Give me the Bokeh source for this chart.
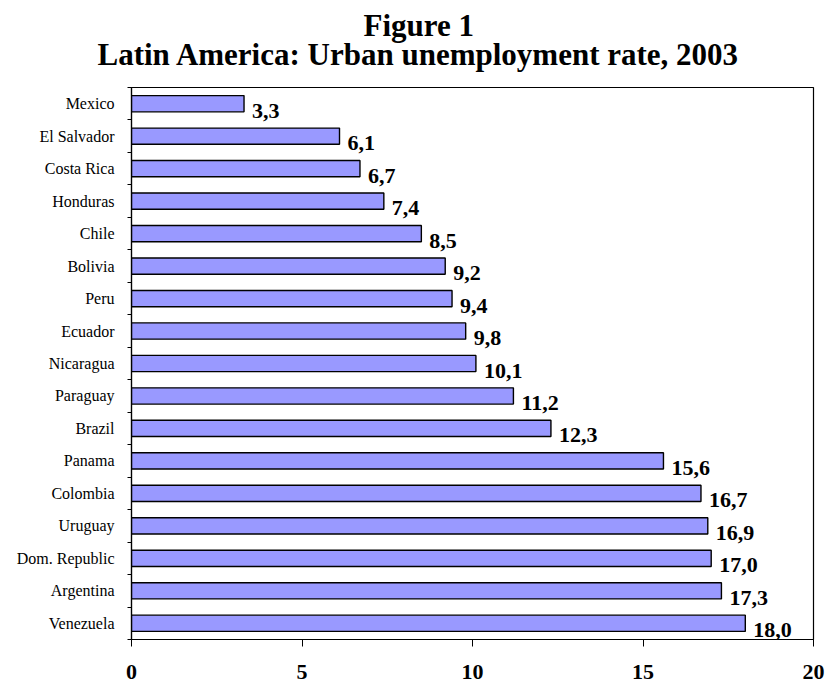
from bokeh.plotting import figure
from bokeh.models import ColumnDataSource, Range1d, FixedTicker, Title
from bokeh.core.properties import value
from bokeh.embed import file_html
from bokeh.resources import INLINE

countries = ["Mexico", "El Salvador", "Costa Rica", "Honduras", "Chile", "Bolivia",
             "Peru", "Ecuador", "Nicaragua", "Paraguay", "Brazil", "Panama",
             "Colombia", "Uruguay", "Dom. Republic", "Argentina", "Venezuela"]
rates = [3.3, 6.1, 6.7, 7.4, 8.5, 9.2, 9.4, 9.8, 10.1, 11.2, 12.3, 15.6,
         16.7, 16.9, 17.0, 17.3, 18.0]
x_ticks = [0, 5, 10, 15, 20]
title_line1 = "Figure 1"
title_line2 = "Latin America: Urban unemployment rate, 2003"

FONT = "Liberation Serif"
W, H = 827, 687
LEFT, RIGHT, TOP, BOTTOM = 131, 14, 87, 48

n = len(countries)
pos = list(range(n))
labels = [f"{v:.1f}".replace(".", ",") for v in rates]
source = ColumnDataSource(dict(country=countries, rate=rates, pos=pos, label=labels))

p = figure(width=W, height=H, output_backend="svg", toolbar_location=None,
           x_range=Range1d(0, 20), y_range=Range1d(n - 0.5, -0.5),
           min_border_left=LEFT, min_border_right=RIGHT, min_border_top=TOP,
           min_border_bottom=BOTTOM)

p.xgrid.visible = False
p.ygrid.visible = False
p.outline_line_color = "black"
p.outline_line_width = 1.2
p.background_fill_color = "white"
p.border_fill_color = "white"

# x axis
xa = p.xaxis[0]
xa.ticker = FixedTicker(ticks=x_ticks)
xa.major_tick_out = 7
xa.major_tick_in = 0
xa.minor_tick_line_color = None
xa.axis_line_color = "black"
xa.axis_line_width = 1.2
xa.major_tick_line_color = "black"
xa.major_label_text_font = FONT
xa.major_label_text_font_style = "bold"
xa.major_label_text_font_size = "22px"
xa.major_label_text_color = "black"
xa.major_label_standoff = 18

# y axis: labels at category centres, ticks at category boundaries
ya = p.yaxis[0]
ya.ticker = FixedTicker(ticks=pos, minor_ticks=[i - 0.5 for i in range(n + 1)])
ya.major_label_overrides = {i: c for i, c in enumerate(countries)}
ya.major_tick_line_color = None
ya.major_tick_out = 0
ya.major_tick_in = 0
ya.minor_tick_out = 4
ya.minor_tick_in = 0
ya.minor_tick_line_color = "black"
ya.axis_line_color = "black"
ya.axis_line_width = 1.2
ya.major_label_text_font = FONT
ya.major_label_text_font_size = "16px"
ya.major_label_text_color = "black"
ya.major_label_standoff = 13

p.hbar(y="pos", left=0, right="rate", height=0.5, source=source,
       fill_color="#9999FF", line_color="black", line_width=1.4)

p.text(x="rate", y="pos", text="label", source=source, x_offset=8, y_offset=7,
       text_baseline="middle", text_align="left", text_font=value(FONT),
       text_font_size="22px", text_font_style="bold", text_color="black")

# two-line title, centred on the page rather than on the plot frame
t2 = Title(text=title_line2, align="left", offset=-34, standoff=31,
           text_font=FONT, text_font_size="31px", text_font_style="bold",
           text_color="black")
t1 = Title(text=title_line1, align="left", offset=232, standoff=-47,
           text_font=FONT, text_font_size="31px", text_font_style="bold",
           text_color="black")
p.add_layout(t2, "above")
p.add_layout(t1, "above")

open("out.html", "w").write(file_html(p, INLINE))
